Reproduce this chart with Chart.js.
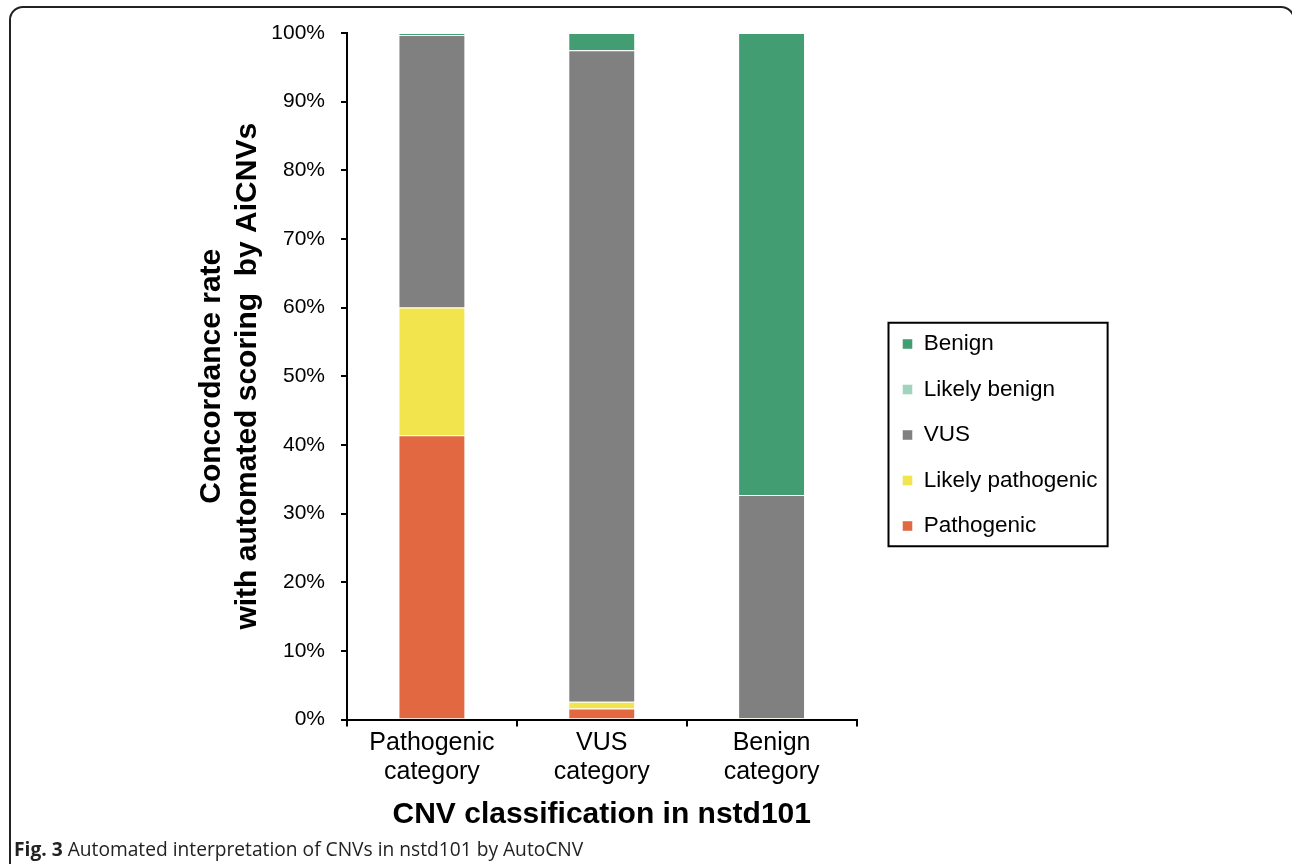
<!DOCTYPE html>
<html>
<head>
<meta charset="utf-8">
<script src="https://cdn.jsdelivr.net/npm/chart.js@4.4.1/dist/chart.umd.min.js"></script>
<style>
    html, body { margin: 0; padding: 0; background: #fff; }
    body { width: 1292px; height: 864px; position: relative; overflow: hidden; }
    #frame {
        position: absolute; left: 9px; top: 6px; right: -3px; height: 920px;
        border: 2px solid #222; border-radius: 14px; box-sizing: border-box;
    }
    #chart-box { position: absolute; left: 0; top: 0; width: 1292px; height: 864px; }
    #caption {
        position: absolute; left: 14px; top: 835px;
        font-family: 'Open Sans', sans-serif; font-size: 19.2px; color: #222; white-space: nowrap;
    }
    #caption b { font-weight: 700; }
</style>
</head>
<body>
<div id="frame"></div>
<div id="chart-box"><canvas id="cnv-canvas" width="1292" height="864"></canvas></div>
<div id="caption"><b>Fig. 3</b> Automated interpretation of CNVs in nstd101 by AutoCNV</div>
<script>
var categories = [['Pathogenic', 'category'], ['VUS', 'category'], ['Benign', 'category']];

// percentages per category, bottom of the stack first
var pathogenic = [41.4, 1.6, 0];
var likelyPathogenic = [18.6, 1.0, 0.2];
var vus = [39.7, 94.9, 32.5];
var likelyBenign = [0, 0, 0];
var benign = [0.3, 2.5, 67.3];

var yTicks = [0, 10, 20, 30, 40, 50, 60, 70, 80, 90, 100];

document.addEventListener('DOMContentLoaded', function() {
    var ctx = document.getElementById('cnv-canvas').getContext('2d');

    function bar(label, data, color) {
        return {
            label: label,
            data: data,
            backgroundColor: color,
            borderColor: 'rgba(255, 255, 255, 0.45)',
            borderWidth: 1,
            barPercentage: 0.394,
            categoryPercentage: 1.0
        };
    }

    // move the legend a bit right of the plot and draw the box around it
    var legendFrame = {
        id: 'legendFrame',
        afterLayout: function(chart) {
            var lg = chart.legend;
            lg.left += 23;
            lg.right += 23;
            lg.top += 2;
            lg.bottom += 2;
        },
        afterDraw: function(chart) {
            var boxes = chart.legend.legendHitBoxes;
            if (!boxes || !boxes.length) return;
            var l = Infinity, r = -Infinity, t = Infinity, b = -Infinity;
            boxes.forEach(function(h) {
                l = Math.min(l, h.left);
                r = Math.max(r, h.left + h.width);
                t = Math.min(t, h.top);
                b = Math.max(b, h.top + h.height);
            });
            var c = chart.ctx;
            c.save();
            c.strokeStyle = '#000';
            c.lineWidth = 2;
            c.strokeRect(l - 14, t - 10, (r - l) + 24, (b - t) + 19);
            c.restore();
        }
    };

    var cnvChart = new Chart(ctx, {
        type: 'bar',
        data: {
            labels: categories,
            datasets: [
                bar('Pathogenic', pathogenic, '#E26841'),
                bar('Likely pathogenic', likelyPathogenic, '#F2E44D'),
                bar('VUS', vus, '#808080'),
                bar('Likely benign', likelyBenign, '#A2D3BE'),
                bar('Benign', benign, '#439D72')
            ]
        },
        options: {
            responsive: false,
            animation: false,
            layout: {
                padding: { left: 192, right: 214, top: 33, bottom: 31 }
            },
            plugins: {
                tooltip: { enabled: false },
                legend: {
                    display: true,
                    position: 'right',
                    reverse: true,
                    labels: {
                        color: '#000',
                        boxWidth: 10,
                        boxHeight: 10,
                        padding: 23,
                        font: { family: 'Liberation Sans, Arial, sans-serif', size: 22.5, lineHeight: 1.2 }
                    }
                }
            },
            scales: {
                x: {
                    stacked: true,
                    offset: true,
                    border: { display: true, color: '#000', width: 2 },
                    grid: {
                        offset: true,
                        drawOnChartArea: false,
                        drawTicks: true,
                        tickLength: 7,
                        color: '#000',
                        lineWidth: 2
                    },
                    ticks: {
                        color: '#000',
                        padding: 2.5,
                        maxRotation: 0,
                        font: { family: 'Liberation Sans, Arial, sans-serif', size: 25, lineHeight: 1.16 }
                    },
                    title: {
                        display: true,
                        text: 'CNV classification in nstd101',
                        color: '#000',
                        padding: { top: 7.5, bottom: 0 },
                        font: { family: 'Liberation Sans, Arial, sans-serif', size: 30, weight: 'bold', lineHeight: 1.2 }
                    }
                },
                y: {
                    stacked: true,
                    min: yTicks[0],
                    max: yTicks[yTicks.length - 1],
                    afterFit: function(axis) {
                        axis.width = 155;
                    },
                    border: { display: true, color: '#000', width: 2 },
                    grid: {
                        drawOnChartArea: false,
                        drawTicks: true,
                        tickLength: 6,
                        color: '#000',
                        lineWidth: 2
                    },
                    afterBuildTicks: function(axis) {
                        axis.ticks = yTicks.map(function(v) { return { value: v }; });
                    },
                    ticks: {
                        color: '#000',
                        padding: 16,
                        font: { family: 'Liberation Sans, Arial, sans-serif', size: 21 },
                        callback: function(value) { return value + '%'; }
                    },
                    title: {
                        display: true,
                        text: ['Concordance rate', 'with automated scoring  by AiCNVs'],
                        color: '#000',
                        padding: { top: 2, bottom: 0 },
                        font: { family: 'Liberation Sans, Arial, sans-serif', size: 30, weight: 'bold', lineHeight: 1.2 }
                    }
                }
            }
        },
        plugins: [legendFrame]
    });
});
</script>
</body>
</html>
